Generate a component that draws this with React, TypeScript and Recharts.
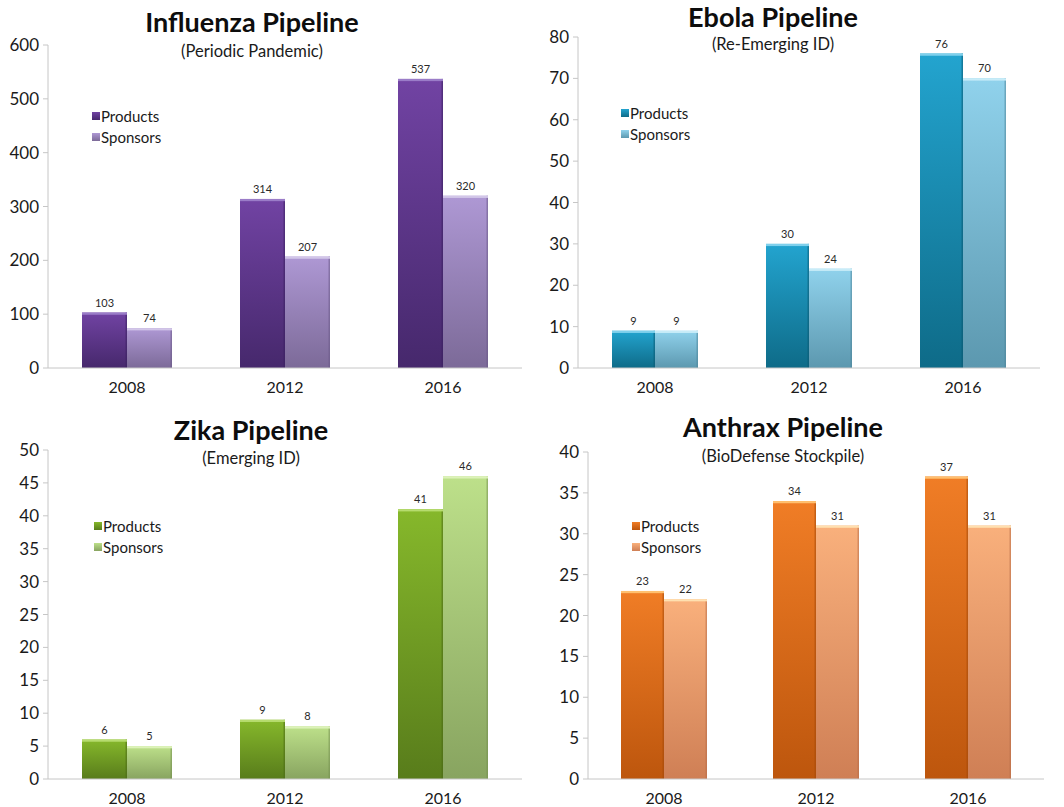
import React from 'react';
import { BarChart, Bar, XAxis, YAxis, Legend, LabelList } from 'recharts';

// Categories
const years = ['2008', '2012', '2016'];

// Pipeline counts per year
const influenzaProducts = [103, 314, 537];
const influenzaSponsors = [74, 207, 320];
const ebolaProducts = [9, 30, 76];
const ebolaSponsors = [9, 24, 70];
const zikaProducts = [6, 9, 41];
const zikaSponsors = [5, 8, 46];
const anthraxProducts = [23, 34, 37];
const anthraxSponsors = [22, 31, 31];

// Axis ticks
const influenzaTicks = [0, 100, 200, 300, 400, 500, 600];
const ebolaTicks = [0, 10, 20, 30, 40, 50, 60, 70, 80];
const zikaTicks = [0, 5, 10, 15, 20, 25, 30, 35, 40, 45, 50];
const anthraxTicks = [0, 5, 10, 15, 20, 25, 30, 35, 40];

const FONT = 'Lato, "Open Sans", "DejaVu Sans", sans-serif';

type Palette = { top: string; bottom: string; edge: string; shine: string };

interface Panel {
  id: string;
  title: string;
  subtitle: string;
  products: number[];
  sponsors: number[];
  ticks: number[];
  left: number;
  top: number;
  width: number;
  height: number;
  margin: { top: number; right: number; bottom: number; left: number };
  yWidth: number;
  xHeight: number;
  barSize: number;
  titleX: number;
  titleY: number;
  subY: number;
  legendX: number;
  legendY: number;
  prod: Palette;
  spon: Palette;
}

const panels: Panel[] = [
  {
    id: 'flu',
    title: 'Influenza Pipeline',
    subtitle: '(Periodic Pandemic)',
    products: influenzaProducts,
    sponsors: influenzaSponsors,
    ticks: influenzaTicks,
    left: 0,
    top: 0,
    width: 530,
    height: 400,
    margin: { top: 45, right: 8, bottom: 2, left: 0 },
    yWidth: 48,
    xHeight: 30,
    barSize: 45,
    titleX: 252,
    titleY: 32,
    subY: 57,
    legendX: 92,
    legendY: 106,
    prod: { top: '#7143a3', bottom: '#46286c', edge: '#3a2060', shine: '#9a7cc8' },
    spon: { top: '#ae98d4', bottom: '#7c6a98', edge: '#6a5a86', shine: '#d2c6e8' },
  },
  {
    id: 'ebola',
    title: 'Ebola Pipeline',
    subtitle: '(Re-Emerging ID)',
    products: ebolaProducts,
    sponsors: ebolaSponsors,
    ticks: ebolaTicks,
    left: 520,
    top: 0,
    width: 530,
    height: 400,
    margin: { top: 37, right: 10, bottom: 2, left: 0 },
    yWidth: 58,
    xHeight: 30,
    barSize: 43,
    titleX: 253,
    titleY: 27,
    subY: 50,
    legendX: 101,
    legendY: 103,
    prod: { top: '#23a4cf', bottom: '#0e6b88', edge: '#0b5a72', shine: '#7fd0ec' },
    spon: { top: '#90d2ec', bottom: '#5c98af', edge: '#4f8599', shine: '#c8ecf8' },
  },
  {
    id: 'zika',
    title: 'Zika Pipeline',
    subtitle: '(Emerging ID)',
    products: zikaProducts,
    sponsors: zikaSponsors,
    ticks: zikaTicks,
    left: 0,
    top: 400,
    width: 530,
    height: 407,
    margin: { top: 50, right: 8, bottom: 0, left: 0 },
    yWidth: 48,
    xHeight: 28,
    barSize: 45,
    titleX: 251,
    titleY: 40,
    subY: 64,
    legendX: 94,
    legendY: 116,
    prod: { top: '#86b82b', bottom: '#587c1b', edge: '#4a6a15', shine: '#b6dc6e' },
    spon: { top: '#bde08a', bottom: '#88a460', edge: '#758f50', shine: '#dcf2b8' },
  },
  {
    id: 'anthrax',
    title: 'Anthrax Pipeline',
    subtitle: '(BioDefense Stockpile)',
    products: anthraxProducts,
    sponsors: anthraxSponsors,
    ticks: anthraxTicks,
    left: 520,
    top: 400,
    width: 530,
    height: 407,
    margin: { top: 52, right: 6, bottom: 0, left: 0 },
    yWidth: 68,
    xHeight: 28,
    barSize: 43,
    titleX: 263,
    titleY: 37,
    subY: 62,
    legendX: 112,
    legendY: 116,
    prod: { top: '#f07d26', bottom: '#bd560d', edge: '#a4480a', shine: '#ffc070' },
    spon: { top: '#f9b07c', bottom: '#cf7f55', edge: '#b86e48', shine: '#ffe0b0' },
  },
];

const makeShape = (pal: Palette, gradId: string) => (props: any) => {
  const { x, y, width, height } = props;
  if (!height || height <= 0) return <g />;
  return (
    <g>
      <rect x={x} y={y} width={width} height={height} fill={`url(#${gradId})`} />
      <rect x={x + width - 1.5} y={y} width={1.5} height={height} fill={pal.edge} opacity={0.55} />
      <rect x={x} y={y} width={width} height={2.2} fill={pal.shine} />
    </g>
  );
};

const LegendBox = (props: any) => {
  const items = props.payload || [];
  return (
    <div style={{ fontFamily: FONT, fontSize: 15, color: '#1a1a1a' }}>
      {items.map((it: any) => (
        <div key={it.value} style={{ display: 'flex', alignItems: 'center', height: 20.5, lineHeight: '20px' }}>
          <svg width={8} height={8} style={{ marginRight: 1 }}>
            <rect x={0} y={0} width={8} height={8} fill={it.color} />
          </svg>
          <span>{it.value}</span>
        </div>
      ))}
    </div>
  );
};

const PanelChart = ({ p }: { p: Panel }) => {
  const data = years.map((year, i) => ({ year, Products: p.products[i], Sponsors: p.sponsors[i] }));
  const max = p.ticks[p.ticks.length - 1];
  const gp = `${p.id}-prod`;
  const gs = `${p.id}-spon`;
  const labelStyle = { fontSize: 11, fill: '#2a2a2a', fontFamily: FONT };
  return (
    <div style={{ position: 'absolute', left: p.left, top: p.top, width: p.width, height: p.height }}>
      <BarChart width={p.width} height={p.height} data={data} margin={p.margin} barGap={0}>
        <defs>
          <linearGradient id={gp} x1="0" y1="0" x2="0" y2="1">
            <stop offset="0%" stopColor={p.prod.top} />
            <stop offset="100%" stopColor={p.prod.bottom} />
          </linearGradient>
          <linearGradient id={gs} x1="0" y1="0" x2="0" y2="1">
            <stop offset="0%" stopColor={p.spon.top} />
            <stop offset="100%" stopColor={p.spon.bottom} />
          </linearGradient>
        </defs>
        <XAxis
          dataKey="year"
          height={p.xHeight}
          axisLine={{ stroke: '#c6c6c6' }}
          tickLine={false}
          tickSize={0}
          tickMargin={14}
          tick={{ fontSize: 16, fill: '#1a1a1a', fontFamily: FONT }}
        />
        <YAxis
          domain={[0, max]}
          ticks={p.ticks}
          interval={0}
          width={p.yWidth}
          axisLine={{ stroke: '#c6c6c6' }}
          tickLine={{ stroke: '#c6c6c6' }}
          tickSize={5}
          tickMargin={4}
          tick={{ fontSize: 17, fill: '#1a1a1a', fontFamily: FONT }}
        />
        <Legend
          layout="vertical"
          align="center"
          verticalAlign="middle"
          content={<LegendBox />}
          wrapperStyle={{ left: p.legendX, top: p.legendY, width: 'auto', height: 'auto' }}
        />
        <Bar
          dataKey="Products"
          fill={`url(#${gp})`}
          barSize={p.barSize}
          isAnimationActive={false}
          shape={makeShape(p.prod, gp)}
        >
          <LabelList dataKey="Products" position="top" offset={6} style={labelStyle} />
        </Bar>
        <Bar
          dataKey="Sponsors"
          fill={`url(#${gs})`}
          barSize={p.barSize}
          isAnimationActive={false}
          shape={makeShape(p.spon, gs)}
        >
          <LabelList dataKey="Sponsors" position="top" offset={6} style={labelStyle} />
        </Bar>
      </BarChart>
      <svg
        width={p.width}
        height={p.height}
        style={{ position: 'absolute', left: 0, top: 0, pointerEvents: 'none' }}
      >
        <text
          x={p.titleX}
          y={p.titleY}
          textAnchor="middle"
          fontFamily={FONT}
          fontWeight={700}
          fontSize={27}
          fill="#0d0d0d"
        >
          {p.title}
        </text>
        <text x={p.titleX} y={p.subY} textAnchor="middle" fontFamily={FONT} fontSize={16.5} fill="#1a1a1a">
          {p.subtitle}
        </text>
      </svg>
    </div>
  );
};

export default function App() {
  return (
    <div style={{ position: 'absolute', left: 0, top: 0, width: 1064, height: 807, background: '#fff' }}>
      {panels.map((p) => (
        <PanelChart key={p.id} p={p} />
      ))}
    </div>
  );
}
